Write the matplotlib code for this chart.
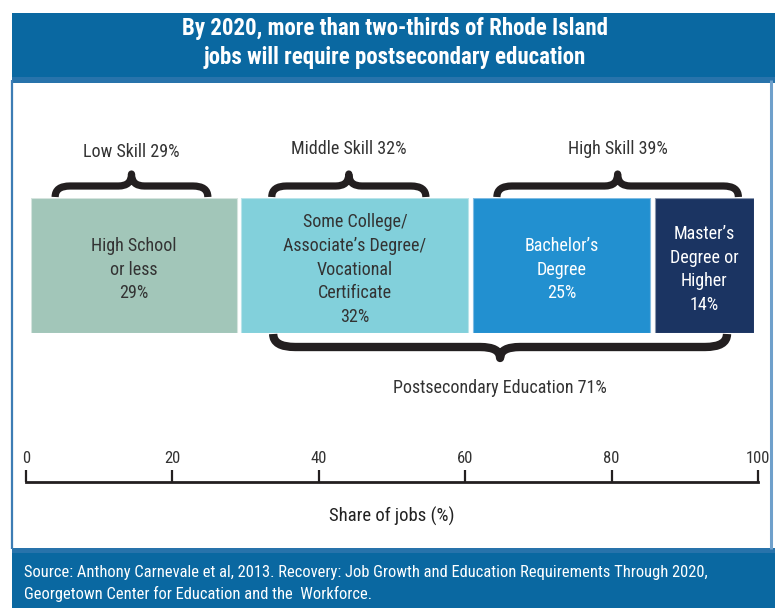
import matplotlib
matplotlib.use("Agg")
import matplotlib.pyplot as plt
from matplotlib.patches import Rectangle, PathPatch
from matplotlib.path import Path
from matplotlib import transforms, font_manager
import numpy as np

# ---------------- data ----------------
categories = ["High School\nor less", "Some College/\nAssociate\u2019s Degree/\nVocational\nCertificate",
              "Bachelor\u2019s\nDegree", "Master\u2019s\nDegree or\nHigher"]
shares = [29, 32, 25, 14]
bar_colors = ["#A2C6B9", "#82D0DB", "#2290D0", "#1B3462"]
edge_colors = ["#D5E4DE", "#B9E4EA", "#7FBCE3", "#8A97AE"]
text_colors = ["#333333", "#333333", "#FFFFFF", "#FFFFFF"]

groups = ["Low Skill", "Middle Skill", "High Skill"]
group_members = [[0], [1], [2, 3]]
group_shares = [29, 32, 39]
post_label = "Postsecondary Education"
post_members = [1, 2, 3]
post_share = 71

axis_ticks = [0, 20, 40, 60, 80, 100]
xlabel = "Share of jobs (%)"
title = "By 2020, more than two-thirds of Rhode Island\njobs will require postsecondary education"
source_lines = ["Source: Anthony Carnevale et al, 2013. Recovery: Job Growth and Education Requirements Through 2020,",
                "Georgetown Center for Education and the  Workforce."]

# ---------------- fonts ----------------
available = {f.name for f in font_manager.fontManager.ttflist}
fam = [f for f in ["Liberation Sans Narrow", "Roboto Condensed", "DejaVu Sans"] if f in available] or ["DejaVu Sans"]
plt.rcParams["font.family"] = fam + ["DejaVu Sans"]

W, H = 775, 608
fig = plt.figure(figsize=(W / 100, H / 100), dpi=100)
fig.patch.set_facecolor("white")

deco = fig.add_axes([0, 0, 1, 1])
deco.set_xlim(0, W)
deco.set_ylim(H, 0)
deco.axis("off")

band = "#0A68A1"
# title band
deco.add_patch(Rectangle((12, 13), W - 12, 65, color=band, lw=0))
deco.add_patch(Rectangle((12, 77), W - 12, 6, color="#2873AB", lw=0))
deco.text(395, 43, title, color="white", fontsize=16.5, fontweight="bold",
          ha="center", va="center", linespacing=1.28)
# frame lines
deco.plot([12, 12], [80, 549], color="#3D7DB4", lw=1.6, solid_capstyle="butt")
deco.plot([771, 771], [80, 549], color="#6FA0CB", lw=2.2, solid_capstyle="butt")
# footer band
deco.add_patch(Rectangle((12, 548), W - 12, H - 548, color=band, lw=0))
deco.add_patch(Rectangle((12, 548), W - 12, 5, color="#2873AB", lw=0))
deco.text(24, 573, source_lines[0], color="white", fontsize=11.9, ha="left", va="center")
deco.text(24, 594, source_lines[1], color="white", fontsize=11.9, ha="left", va="center")

# ---------------- bars ----------------
gap = 0.6
ax = fig.add_axes([31 / W, 1 - 333 / H, 723 / W, 135 / H])
ax.set_xlim(0, sum(shares) + gap * (len(shares) - 1))
ax.set_ylim(0, 1)
ax.axis("off")
lefts = np.concatenate([[0], np.cumsum(shares)[:-1]]) + gap * np.arange(len(shares))
ax.barh(0.5, shares, left=lefts, height=1, color=bar_colors, edgecolor=edge_colors, linewidth=0.8)
for l, s, lab, tc in zip(lefts, shares, categories, text_colors):
    ax.text(l + s / 2, 0.47, f"{lab}\n{s}%", ha="center", va="center", color=tc,
            fontsize=13, linespacing=1.42)

# ---------------- braces ----------------
btr = transforms.blended_transform_factory(ax.transData, deco.transData)
pxu = 723 / (sum(shares) + gap * 3)  # pixels per data unit


def brace(x0, x1, y_end, y_h, y_tip, r_end, r_mid, lw):
    xc = (x0 + x1) / 2
    re, rm = r_end / pxu, r_mid / pxu
    verts = [(x0, y_end), (x0, y_h), (x0 + re, y_h), (xc - rm, y_h), (xc, y_h), (xc, y_tip),
             (xc, y_h), (xc + rm, y_h), (x1 - re, y_h), (x1, y_h), (x1, y_end)]
    codes = [Path.MOVETO, Path.CURVE3, Path.CURVE3, Path.LINETO, Path.CURVE3, Path.CURVE3,
             Path.CURVE3, Path.CURVE3, Path.LINETO, Path.CURVE3, Path.CURVE3]
    p = PathPatch(Path(verts, codes), transform=btr, fill=False, edgecolor="#231F20",
                  lw=lw, capstyle="butt", joinstyle="round", clip_on=False)
    deco.add_patch(p)
    return xc


insets = [(3.4, 4.1), (4.3, 6.0), (3.4, 2.2)]
label_y = [152, 149, 149]
for g, mem, gs, (il, ir), ly in zip(groups, group_members, group_shares, insets, label_y):
    x0 = lefts[mem[0]] + il
    x1 = lefts[mem[-1]] + shares[mem[-1]] - ir
    xc = brace(x0, x1, 197, 186, 174, 15, 13, 5.2)
    deco.text(xc, ly, f"{g} {gs}%", transform=btr, ha="center", va="center",
              fontsize=13, color="#333333")

x0 = lefts[post_members[0]] + 4.5
x1 = lefts[post_members[-1]] + shares[post_members[-1]] - 3.8
xc = brace(x0, x1, 334, 347, 358, 22, 20, 6.0)
deco.text(xc, 388, f"{post_label} {post_share}%", transform=btr, ha="center", va="center",
          fontsize=13, color="#333333")

# ---------------- share axis ----------------
tax = fig.add_axes([26 / W, 1 - 482 / H, 732 / W, 12 / H])
tax.set_xlim(0, 100)
tax.set_ylim(0, 1)
tax.patch.set_alpha(0)
for s in ["left", "right", "top"]:
    tax.spines[s].set_visible(False)
tax.spines["bottom"].set_linewidth(2.0)
tax.spines["bottom"].set_color("#231F20")
tax.set_yticks([])
tax.set_xticks(axis_ticks)
tax.set_xticklabels([str(t) for t in axis_ticks])
tax.tick_params(axis="x", direction="in", length=8.6, width=1.6, color="#231F20",
                top=False, bottom=True, labeltop=True, labelbottom=False, pad=3,
                labelsize=12, labelcolor="#333333")
tax.set_xlabel(xlabel, fontsize=13.5, color="#222222", labelpad=18)

fig.savefig("out.png", dpi=100)
